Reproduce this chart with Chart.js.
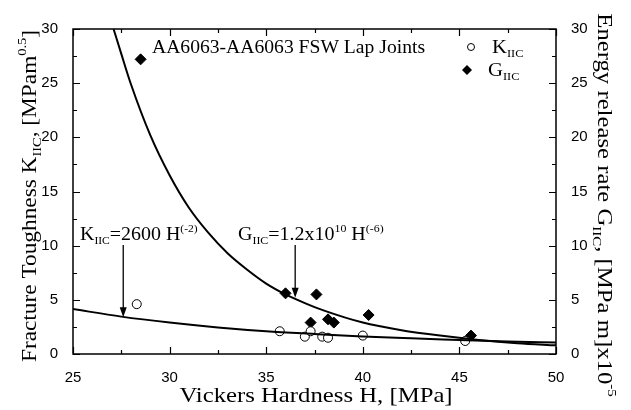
<!DOCTYPE html>
<html>
<head>
<meta charset="utf-8">
<script src="https://cdn.jsdelivr.net/npm/chart.js@4/dist/chart.umd.min.js"></script>
<style>
  html, body { margin: 0; background: #fff; }
</style>
</head>
<body>
<canvas id="chart" width="631" height="410"></canvas>
<script>
'use strict';

const kHardness = [28.3, 35.7, 37.0, 37.3, 37.9, 38.2, 40.0, 45.3];
const kValues = [4.6, 2.1, 1.6, 2.1, 1.6, 1.5, 1.7, 1.2];
const gHardness = [28.5, 36.0, 37.3, 37.6, 38.2, 38.5, 40.3, 45.6];
const gValues = [27.2, 5.6, 2.9, 5.5, 3.2, 2.9, 3.6, 1.7];

// fitted curves
const kFitH = [25, 27.5, 30, 32.5, 35, 37.5, 40, 42.5, 45, 47.5, 50];
const kFitV = [4.15, 3.45, 2.9, 2.45, 2.1, 1.85, 1.62, 1.45, 1.3, 1.15, 1.05];
const gFitH = [27.1, 27.5, 28, 29, 30, 31, 32, 33, 34, 35, 36, 37, 38, 40, 42, 44, 46, 48, 50];
const gFitV = [30, 27.7, 24.9, 20.2, 16.5, 13.5, 11.2, 9.3, 7.8, 6.5, 5.5, 4.7, 4.0, 2.9, 2.2, 1.7, 1.3, 1.0, 0.8];

const xTicks = [25, 30, 35, 40, 45, 50];
const yTicks = [0, 5, 10, 15, 20, 25, 30];

const SERIF = '"Liberation Serif", "Times New Roman", serif';
const SANS = '"Liberation Sans", Arial, sans-serif';

const pts = (xs, ys) => xs.map((x, i) => ({ x, y: ys[i] }));

// draw a run of text pieces [text, size, dy], stretched sideways by k
function richText(ctx, parts, x, y, align, k) {
  k = k || 1;
  let w = 0;
  parts.forEach(([t, s]) => {
    ctx.font = s + 'px ' + SERIF;
    w += ctx.measureText(t).width;
  });
  ctx.save();
  ctx.translate(x, y);
  ctx.scale(k, 1);
  let cx = align === 'center' ? -w / 2 : 0;
  ctx.textAlign = 'left';
  ctx.textBaseline = 'alphabetic';
  parts.forEach(([t, s, dy]) => {
    ctx.font = s + 'px ' + SERIF;
    ctx.fillText(t, cx, dy || 0);
    cx += ctx.measureText(t).width;
  });
  ctx.restore();
}

function arrow(ctx, x, y1, y2) {
  ctx.beginPath();
  ctx.moveTo(x, y1);
  ctx.lineTo(x, y2 - 8);
  ctx.stroke();
  ctx.beginPath();
  ctx.moveTo(x, y2);
  ctx.lineTo(x - 3.5, y2 - 10);
  ctx.lineTo(x + 3.5, y2 - 10);
  ctx.closePath();
  ctx.fill();
}

const decor = {
  id: 'decor',
  afterDraw(chart) {
    const ctx = chart.ctx;
    const { left, right, top, bottom } = chart.chartArea;
    const sx = chart.scales.x;
    const sy = chart.scales.y;
    ctx.save();
    ctx.strokeStyle = '#000';
    ctx.fillStyle = '#000';
    ctx.lineWidth = 1.5;
    ctx.strokeRect(left, top, right - left, bottom - top);

    // inward ticks
    ctx.lineWidth = 1.2;
    for (let v = 25; v <= 50; v += 2.5) {
      const px = Math.round(sx.getPixelForValue(v)) + 0.5;
      const len = v % 5 === 0 ? 7 : 4;
      ctx.beginPath();
      ctx.moveTo(px, bottom); ctx.lineTo(px, bottom - len);
      ctx.moveTo(px, top); ctx.lineTo(px, top + len);
      ctx.stroke();
    }
    for (let v = 0; v <= 30; v += 2.5) {
      const py = Math.round(sy.getPixelForValue(v)) + 0.5;
      const len = v % 5 === 0 ? 7 : 4;
      ctx.beginPath();
      ctx.moveTo(left, py); ctx.lineTo(left + len, py);
      ctx.moveTo(right, py); ctx.lineTo(right - len, py);
      ctx.stroke();
    }

    // axis titles
    richText(ctx, [['Vickers Hardness H, [MPa]', 21.5]], 316, 402, 'center', 1.15);

    ctx.save();
    ctx.translate(36, 196);
    ctx.rotate(-Math.PI / 2);
    richText(ctx, [
      ['Fracture Toughness K', 21], ['IIC', 13, 5], [', [MPam', 21], ['0.5', 13, -10], [']', 21]
    ], 0, 0, 'center', 1.11);
    ctx.restore();

    ctx.save();
    ctx.translate(598, 205);
    ctx.rotate(Math.PI / 2);
    richText(ctx, [
      ['Energy release rate G', 21.5], ['IIC', 13, 5], [', [MPa m]x10', 21.5], ['-5', 13, -10]
    ], 0, 0, 'center', 1.15);
    ctx.restore();

    // legend
    richText(ctx, [['AA6063-AA6063 FSW Lap Joints', 18]], 152, 53, 'left', 1.09);
    ctx.lineWidth = 1;
    ctx.beginPath();
    ctx.arc(471, 47, 3.5, 0, Math.PI * 2);
    ctx.stroke();
    richText(ctx, [['K', 18.5], ['IIC', 11, 4]], 492, 53, 'left', 1.12);
    ctx.beginPath();
    ctx.moveTo(467, 65); ctx.lineTo(472, 70); ctx.lineTo(467, 75); ctx.lineTo(462, 70);
    ctx.closePath();
    ctx.fill();
    richText(ctx, [['G', 18.5], ['IIC', 11, 4]], 488, 76, 'left', 1.12);

    // fit annotations
    richText(ctx, [['K', 19], ['IIC', 11, 4], ['=2600 H', 19], ['(-2)', 11, -8]], 80, 240, 'left', 1.05);
    richText(ctx, [['G', 18.5], ['IIC', 11, 4], ['=1.2x10', 18.5], ['10', 11, -8], [' H', 18.5], ['(-6)', 11, -8]], 238, 240, 'left', 1.08);
    ctx.lineWidth = 1.3;
    arrow(ctx, sx.getPixelForValue(27.6), 245, sy.getPixelForValue(3.4));
    arrow(ctx, sx.getPixelForValue(36.5), 245, sy.getPixelForValue(5.2));
    ctx.restore();
  }
};

new Chart(document.getElementById('chart'), {
  type: 'scatter',
  data: {
    datasets: [
      {
        data: pts(kFitH, kFitV), showLine: true, borderColor: '#000', borderWidth: 2,
        pointRadius: 0, cubicInterpolationMode: 'monotone', yAxisID: 'y'
      },
      {
        data: pts(gFitH, gFitV), showLine: true, borderColor: '#000', borderWidth: 2,
        pointRadius: 0, cubicInterpolationMode: 'monotone', yAxisID: 'y2'
      },
      {
        data: pts(kHardness, kValues), pointStyle: 'circle', pointRadius: 4.5,
        backgroundColor: '#fff', borderColor: '#000', borderWidth: 1, yAxisID: 'y'
      },
      {
        data: pts(gHardness, gValues), pointStyle: 'rectRot', pointRadius: 5.5,
        backgroundColor: '#000', borderColor: '#000', borderWidth: 1, yAxisID: 'y2'
      }
    ]
  },
  options: {
    responsive: false,
    animation: false,
    devicePixelRatio: 1,
    layout: { padding: { top: 29 } },
    plugins: { legend: { display: false }, tooltip: { enabled: false } },
    scales: {
      x: {
        type: 'linear', min: 25, max: 50,
        afterBuildTicks: (s) => { s.ticks = xTicks.map((v) => ({ value: v })); },
        afterFit: (s) => { s.height = 56; },
        grid: { display: false }, border: { display: false },
        ticks: { color: '#000', padding: 7, font: { family: SANS, size: 15 } }
      },
      y: {
        position: 'left', min: 0, max: 30,
        afterBuildTicks: (s) => { s.ticks = yTicks.map((v) => ({ value: v })); },
        afterFit: (s) => { s.width = 73; },
        grid: { display: false }, border: { display: false },
        ticks: { color: '#000', padding: 7, font: { family: SANS, size: 15 } }
      },
      y2: {
        position: 'right', min: 0, max: 30,
        afterBuildTicks: (s) => { s.ticks = yTicks.map((v) => ({ value: v })); },
        afterFit: (s) => { s.width = 75; },
        grid: { display: false }, border: { display: false },
        ticks: { color: '#000', padding: 7, font: { family: SANS, size: 15 } }
      }
    }
  },
  plugins: [decor]
});
</script>
</body>
</html>
